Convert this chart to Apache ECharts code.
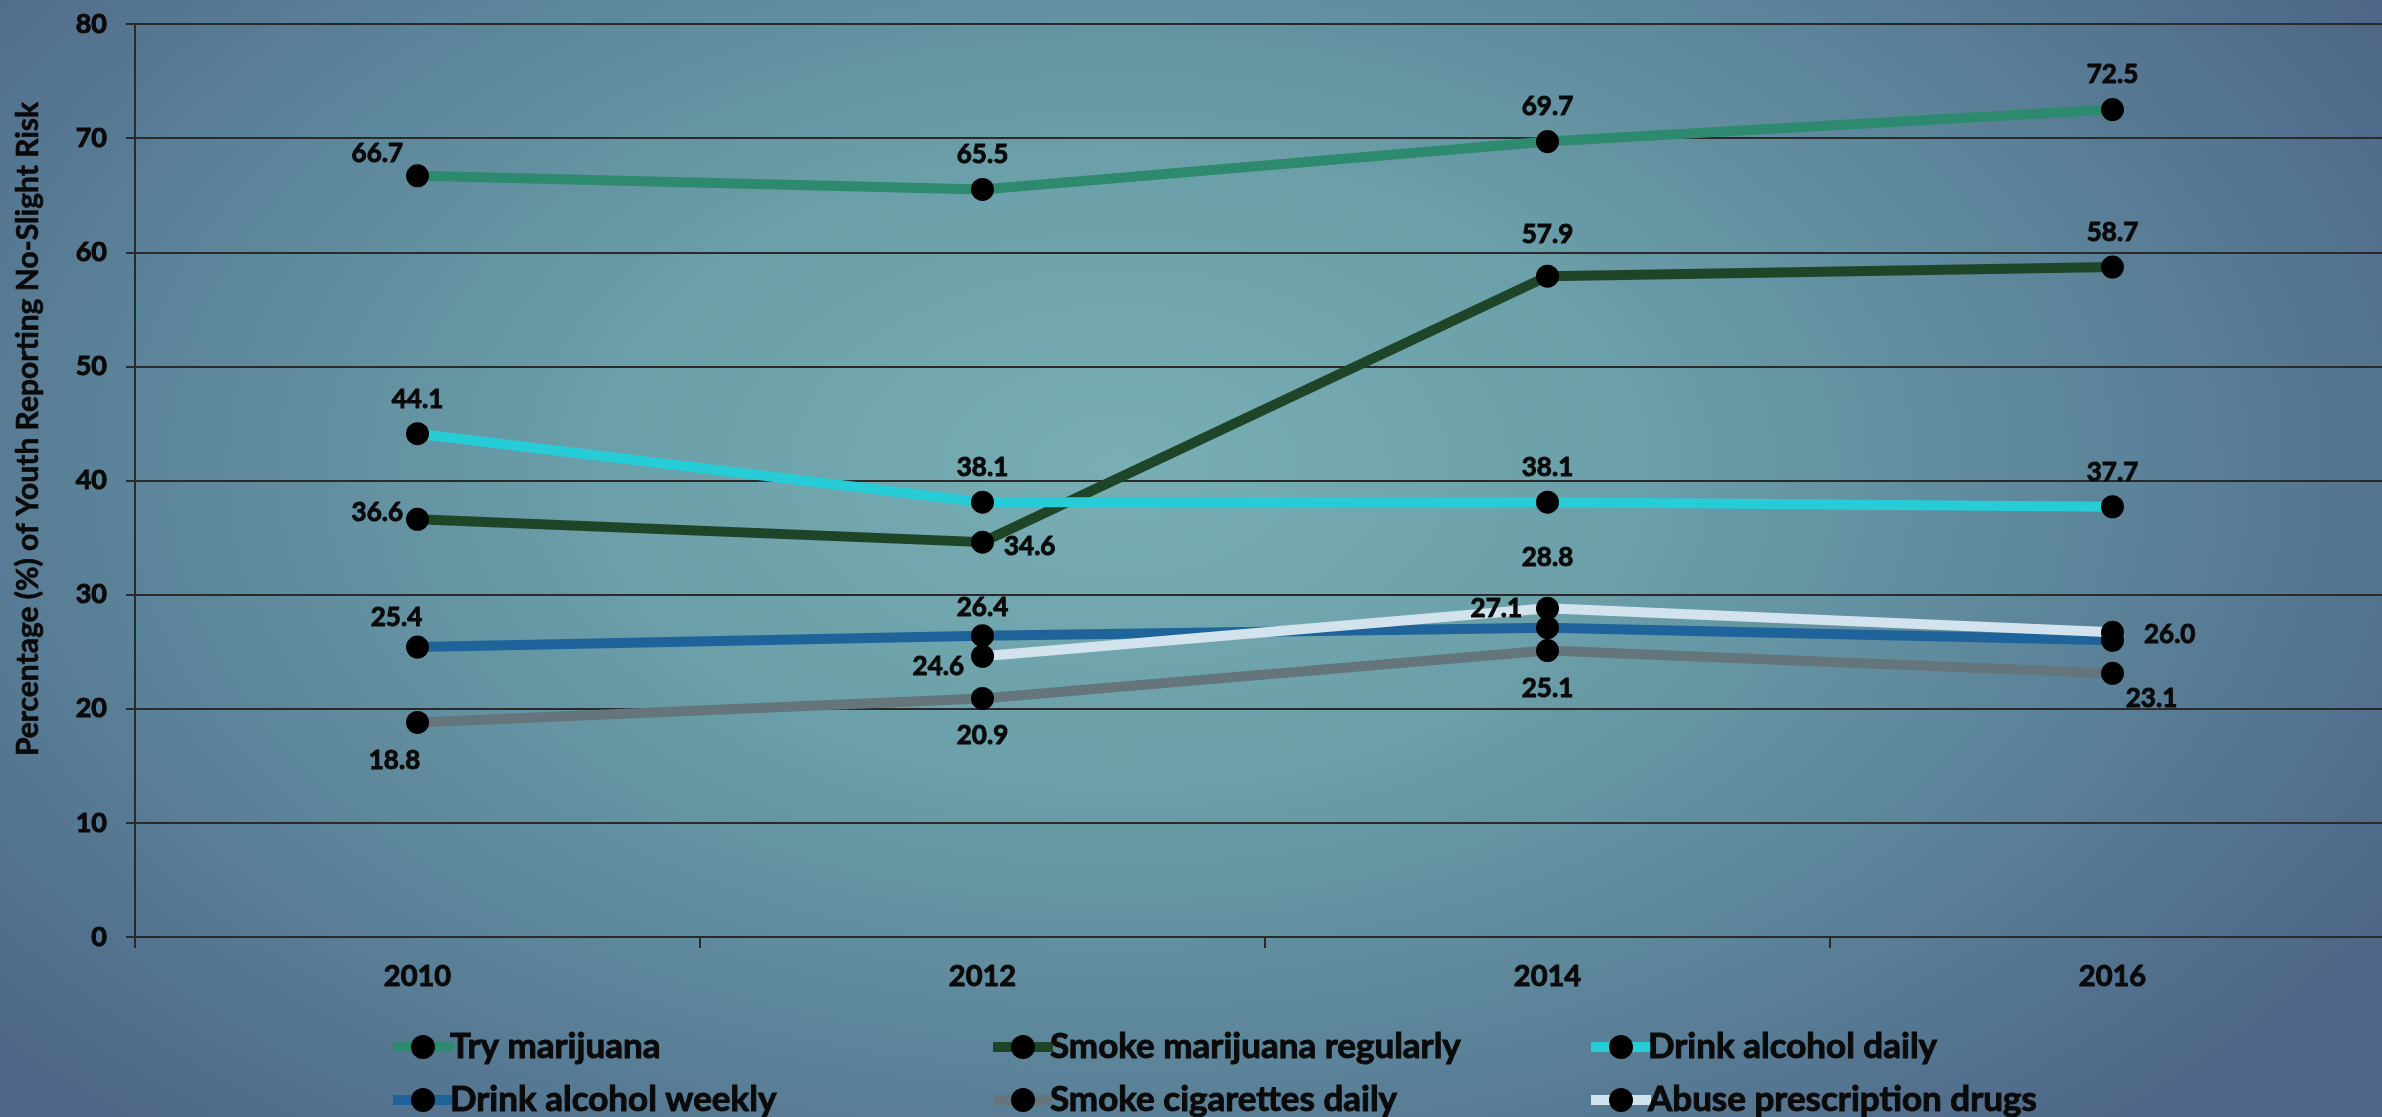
<!DOCTYPE html>
<html>
<head>
<meta charset="utf-8">
<script src="https://cdn.jsdelivr.net/npm/echarts@6/dist/echarts.min.js"></script>
<style>
html,body{margin:0;padding:0;width:2382px;height:1117px;overflow:hidden;}
body{background:radial-gradient(ellipse 62% 80% at 47% 42%, #78AEB4 0%, #6B9FA9 35%, #5B8399 68%, #4E6687 100%);}
#chart{width:2382px;height:1117px;}
</style>
</head>
<body>
<div id="chart"></div>
<script>
const years = ['2010', '2012', '2014', '2016'];
const tryMarijuana = [66.7, 65.5, 69.7, 72.5];
const smokeMarijuanaRegularly = [36.6, 34.6, 57.9, 58.7];
const drinkAlcoholDaily = [44.1, 38.1, 38.1, 37.7];
const drinkAlcoholWeekly = [25.4, 26.4, 27.1, 26.0];
const smokeCigarettesDaily = [18.8, 20.9, 25.1, 23.1];
const abusePrescriptionDrugs = [null, 24.6, 28.8, 26.7];
const yTicks = [0, 10, 20, 30, 40, 50, 60, 70, 80];
const yTitle = 'Percentage (%) of Youth Reporting No-Slight Risk';

const FONT = 'Lato';
const INK = '#0a0a0a';
const boldText = (size) => ({
  color: INK, fontFamily: FONT, fontWeight: 'bold', fontSize: size,
  textBorderColor: INK, textBorderWidth: 1
});

const seriesDefs = [
  { name: 'Try marijuana', values: tryMarijuana, color: '#2E8A6E', pos: 'top',
    labels: [{ position: 'left', distance: 3, offset: [0, -22] }, {}, {}, {}] },
  { name: 'Smoke marijuana regularly', values: smokeMarijuanaRegularly, color: '#1F4529', pos: 'top',
    labels: [{ position: 'left', distance: 3, offset: [0, -7] }, { position: 'right', distance: 10, offset: [0, 4] }, { offset: [0, -7] }, {}] },
  { name: 'Drink alcohol daily', values: drinkAlcoholDaily, color: '#26CCD6', pos: 'top',
    labels: [{}, {}, {}, {}] },
  { name: 'Drink alcohol weekly', values: drinkAlcoholWeekly, color: '#1E6399', pos: 'top',
    labels: [{ offset: [-21, 5] }, { offset: [0, 6] }, { position: 'left', distance: 14, offset: [0, -19] }, { position: 'right', distance: 20, offset: [0, -6] }] },
  { name: 'Smoke cigarettes daily', values: smokeCigarettesDaily, color: '#65757C', pos: 'bottom',
    labels: [{ offset: [-23, 4] }, { offset: [0, 3] }, { offset: [0, 4] }, { offset: [39, -9] }] },
  { name: 'Abuse prescription drugs', values: abusePrescriptionDrugs, color: '#D3E3EE', pos: 'top',
    labels: [{}, { position: 'left', distance: 7, offset: [0, 10] }, { offset: [0, -16] }, { show: false }] }
];

const series = seriesDefs.map(d => ({
  name: d.name,
  type: 'line',
  symbol: 'circle',
  symbolSize: 23,
  connectNulls: false,
  lineStyle: { width: 10, color: d.color },
  itemStyle: { color: '#000' },
  emphasis: { disabled: true },
  label: Object.assign({
    show: true, position: d.pos, distance: 10,
    formatter: p => p.value == null ? '' : Number(p.value).toFixed(1)
  }, boldText(26)),
  data: d.values.map((v, i) => ({ value: v, label: d.labels[i] }))
}));

const legendCols = [388, 988, 1586];
const legendRows = [1029, 1082];
const legends = seriesDefs.map((d, i) => ({
  data: [d.name],
  left: legendCols[i % 3],
  top: legendRows[Math.floor(i / 3)],
  itemWidth: 60,
  itemHeight: 30,
  itemGap: 0,
  padding: 0,
  selectedMode: false,
  lineStyle: { width: 10, color: d.color },
  textStyle: Object.assign(boldText(35), { padding: [0, 0, 0, -8] })
}));

const chart = echarts.init(document.getElementById('chart'), null, { renderer: 'canvas' });
chart.setOption({
  backgroundColor: 'transparent',
  animation: false,
  grid: { left: 135, width: 2260, top: 24, bottom: 180, containLabel: false, outerBoundsMode: 'none' },
  legend: legends,
  graphic: [{
    type: 'text',
    x: 28, y: 429,
    rotation: Math.PI / 2,
    style: { text: yTitle, align: 'center', verticalAlign: 'middle',
      fill: INK, stroke: INK, lineWidth: 0.6,
      font: 'bold 30px ' + FONT }
  }],
  xAxis: {
    type: 'category',
    data: years,
    boundaryGap: true,
    axisLine: { show: true, lineStyle: { color: '#2a2a2a', width: 2 } },
    axisTick: { show: true, length: 11, lineStyle: { color: '#2a2a2a', width: 2 } },
    axisLabel: Object.assign({ margin: 25 }, boldText(29)),
    splitLine: { show: false }
  },
  yAxis: {
    type: 'value',
    min: yTicks[0],
    max: yTicks[yTicks.length - 1],
    interval: 10,
    axisLine: { show: true, lineStyle: { color: '#2a2a2a', width: 2 } },
    axisTick: { show: true, length: 9, lineStyle: { color: '#2a2a2a', width: 2 } },
    axisLabel: Object.assign({ margin: 28 }, boldText(27)),
    splitLine: { show: true, lineStyle: { color: '#2a2a2a', width: 2 } }
  },
  series: series
});
</script>
</body>
</html>
